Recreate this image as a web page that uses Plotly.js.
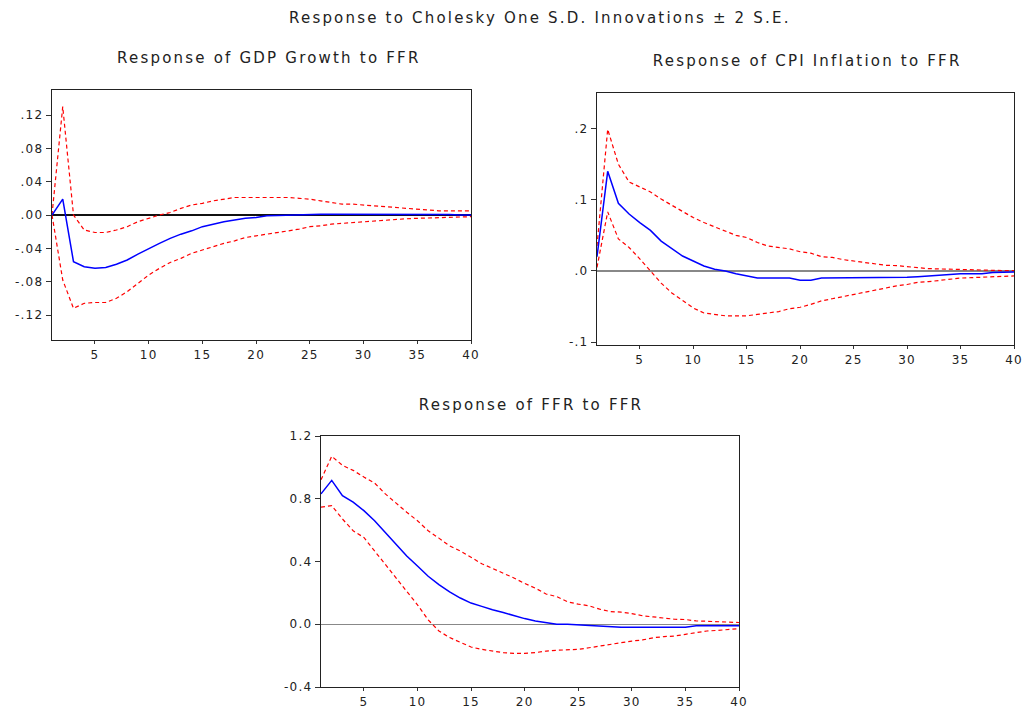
<!DOCTYPE html>
<html>
<head>
<meta charset="utf-8">
<script src="https://cdn.plot.ly/plotly-3.0.1.min.js"></script>
<style>
html,body{margin:0;padding:0;background:#fff;}
#chart{width:1024px;height:711px;}
#chart svg text{letter-spacing:1.2px;}
#chart svg .annotation-text{letter-spacing:2.2px;}
</style>
</head>
<body>
<div id="chart"></div>
<script>
// Periods 1..40
const periods = Array.from({length: 40}, (_, i) => i + 1);

// Response of GDP Growth to FFR
const gdpResp = [0, 0.019, -0.056, -0.062, -0.064, -0.063, -0.059, -0.054, -0.047, -0.040,
  -0.034, -0.028, -0.023, -0.019, -0.014, -0.011, -0.008, -0.006, -0.004, -0.003,
  -0.001, -0.0005, 0, 0.0005, 0.001, 0.001, 0.001, 0.001, 0.001, 0.001,
  0.001, 0.001, 0.001, 0.001, 0.001, 0.001, 0.001, 0.0005, 0, 0];
const gdpUpper = [0, 0.13, 0.0, -0.018, -0.021, -0.021, -0.018, -0.014, -0.008, -0.004,
  0, 0.003, 0.008, 0.012, 0.014, 0.017, 0.019, 0.021, 0.021, 0.021,
  0.021, 0.021, 0.021, 0.020, 0.019, 0.017, 0.015, 0.013, 0.013, 0.012,
  0.011, 0.010, 0.009, 0.008, 0.007, 0.006, 0.005, 0.005, 0.005, 0.005];
const gdpLower = [0, -0.078, -0.112, -0.106, -0.105, -0.105, -0.100, -0.092, -0.082, -0.072,
  -0.064, -0.057, -0.052, -0.046, -0.042, -0.038, -0.034, -0.031, -0.027, -0.025,
  -0.023, -0.021, -0.019, -0.017, -0.014, -0.013, -0.011, -0.010, -0.009, -0.008,
  -0.007, -0.006, -0.005, -0.0045, -0.004, -0.0036, -0.003, -0.003, -0.0025, -0.002];

// Response of CPI Inflation to FFR
const cpiResp = [0.02, 0.14, 0.095, 0.08, 0.068, 0.057, 0.042, 0.031, 0.021, 0.014,
  0.007, 0.0024, 0, -0.004, -0.007, -0.010, -0.010, -0.010, -0.010, -0.013,
  -0.013, -0.010, -0.010, -0.010, -0.010, -0.010, -0.010, -0.010, -0.010, -0.009,
  -0.008, -0.007, -0.005, -0.004, -0.004, -0.004, -0.004, -0.002, -0.0015, -0.0015];
const cpiUpper = [0.035, 0.199, 0.15, 0.125, 0.118, 0.111, 0.101, 0.092, 0.083, 0.075,
  0.068, 0.062, 0.057, 0.050, 0.047, 0.040, 0.035, 0.033, 0.031, 0.027,
  0.025, 0.020, 0.019, 0.016, 0.014, 0.011, 0.0094, 0.008, 0.0075, 0.0066,
  0.0047, 0.0033, 0.0028, 0.0024, 0.002, 0.0014, 0.001, 0.0005, 0.0005, 0.0005];
const cpiLower = [0.005, 0.083, 0.045, 0.033, 0.017, 0, -0.017, -0.031, -0.042, -0.052,
  -0.059, -0.061, -0.063, -0.063, -0.063, -0.061, -0.059, -0.057, -0.053, -0.051,
  -0.047, -0.042, -0.039, -0.036, -0.033, -0.030, -0.026, -0.024, -0.021, -0.019,
  -0.016, -0.015, -0.013, -0.011, -0.010, -0.0094, -0.0085, -0.0085, -0.0075, -0.007];

// Response of FFR to FFR
const ffrResp = [0.831, 0.917, 0.82, 0.778, 0.724, 0.66, 0.585, 0.51, 0.435, 0.371,
  0.306, 0.253, 0.206, 0.167, 0.135, 0.114, 0.092, 0.075, 0.054, 0.036,
  0.021, 0.011, 0, 0, -0.004, -0.011, -0.011, -0.017, -0.019, -0.019,
  -0.019, -0.019, -0.019, -0.019, -0.019, -0.009, -0.009, -0.009, -0.009, -0.009];
const ffrUpper = [0.921, 1.071, 1.013, 0.981, 0.938, 0.9, 0.831, 0.771, 0.714, 0.66,
  0.596, 0.549, 0.499, 0.467, 0.424, 0.386, 0.356, 0.327, 0.295, 0.26,
  0.23, 0.193, 0.176, 0.143, 0.128, 0.118, 0.096, 0.081, 0.077, 0.068,
  0.054, 0.047, 0.039, 0.032, 0.03, 0.021, 0.019, 0.015, 0.011, 0.011];
const ffrLower = [0.746, 0.756, 0.671, 0.596, 0.553, 0.467, 0.381, 0.296, 0.21, 0.124,
  0.028, -0.043, -0.085, -0.117, -0.145, -0.16, -0.171, -0.181, -0.186, -0.186,
  -0.181, -0.171, -0.166, -0.162, -0.16, -0.15, -0.139, -0.128, -0.118, -0.107,
  -0.1, -0.086, -0.079, -0.075, -0.064, -0.054, -0.043, -0.039, -0.034, -0.028];

// Tick labels
const xTickVals = [5, 10, 15, 20, 25, 30, 35, 40];
const xTickText = ['5', '10', '15', '20', '25', '30', '35', '40'];
const gdpTickVals = [-0.12, -0.08, -0.04, 0, 0.04, 0.08, 0.12];
const gdpTickText = ['-.12', '-.08', '-.04', '.00', '.04', '.08', '.12'];
const cpiTickVals = [-0.1, 0, 0.1, 0.2];
const cpiTickText = ['-.1', '.0', '.1', '.2'];
const ffrTickVals = [-0.4, 0, 0.4, 0.8, 1.2];
const ffrTickText = ['-0.4', '0.0', '0.4', '0.8', '1.2'];

// Titles
const mainTitle = 'Response to Cholesky One S.D. Innovations \u00B1 2 S.E.';
const panelTitles = ['Response of GDP Growth to FFR', 'Response of CPI Inflation to FFR', 'Response of FFR to FFR'];

const BLUE = '#0000ff', RED = '#ff0000';
const FONT = 'DejaVu Sans, Liberation Sans, Arial, sans-serif';

function panel(xa, ya, resp, up, lo) {
  return [
    {x: periods, y: up, xaxis: xa, yaxis: ya, type: 'scatter', mode: 'lines',
     line: {color: RED, width: 1.2, dash: '4px,3px'}, hoverinfo: 'skip'},
    {x: periods, y: lo, xaxis: xa, yaxis: ya, type: 'scatter', mode: 'lines',
     line: {color: RED, width: 1.2, dash: '4px,3px'}, hoverinfo: 'skip'},
    {x: periods, y: resp, xaxis: xa, yaxis: ya, type: 'scatter', mode: 'lines',
     line: {color: BLUE, width: 1.5}, hoverinfo: 'skip'}
  ];
}

const data = [].concat(
  panel('x', 'y', gdpResp, gdpUpper, gdpLower),
  panel('x2', 'y2', cpiResp, cpiUpper, cpiLower),
  panel('x3', 'y3', ffrResp, ffrUpper, ffrLower)
);

const W = 1024, H = 711;
function xd(l, r) { return [l / W, r / W]; }
function yd(t, b) { return [(H - b) / H, (H - t) / H]; }

const tickFont = {family: FONT, size: 12, color: '#222'};
function xAxis(dom, anchor) {
  return {domain: dom, anchor: anchor, range: [1, 40], tickvals: xTickVals, ticktext: xTickText,
    ticks: 'outside', ticklen: 3, tickcolor: '#333', showgrid: false, zeroline: false,
    showline: true, linecolor: '#222', linewidth: 1.3, mirror: true, tickfont: tickFont, fixedrange: true};
}
function yAxis(dom, anchor, range, tv, tt, zc, zw) {
  return {domain: dom, anchor: anchor, range: range, tickvals: tv, ticktext: tt,
    ticks: 'outside', ticklen: 5, tickcolor: '#333', showgrid: false,
    zeroline: true, zerolinecolor: zc, zerolinewidth: zw,
    showline: true, linecolor: '#222', linewidth: 1.3, mirror: true, tickfont: tickFont, fixedrange: true};
}

const titleFont = {family: FONT, size: 15, color: '#222'};
function ann(text, cx, cy) {
  return {text: text, xref: 'paper', yref: 'paper', x: cx / W, y: (H - cy) / H,
    xanchor: 'center', yanchor: 'middle', showarrow: false, font: titleFont};
}

const layout = {
  width: W, height: H,
  margin: {l: 0, r: 0, t: 0, b: 0},
  paper_bgcolor: '#fff', plot_bgcolor: '#fff',
  showlegend: false,
  xaxis: xAxis(xd(52, 471), 'y'),
  yaxis: yAxis(yd(90, 340), 'x', [-0.15, 0.15], gdpTickVals, gdpTickText, '#111', 1.5),
  xaxis2: xAxis(xd(597, 1014), 'y2'),
  yaxis2: yAxis(yd(93, 345), 'x2', [-0.104, 0.25], cpiTickVals, cpiTickText, '#888', 1.2),
  xaxis3: xAxis(xd(321, 739), 'y3'),
  yaxis3: yAxis(yd(436, 687), 'x3', [-0.4, 1.2], ffrTickVals, ffrTickText, '#888', 1.2),
  annotations: [
    ann(mainTitle, 540, 18),
    ann(panelTitles[0], 269, 58),
    ann(panelTitles[1], 807, 61),
    ann(panelTitles[2], 531, 405)
  ]
};

Plotly.newPlot('chart', data, layout, {displayModeBar: false, staticPlot: true});
</script>
</body>
</html>
